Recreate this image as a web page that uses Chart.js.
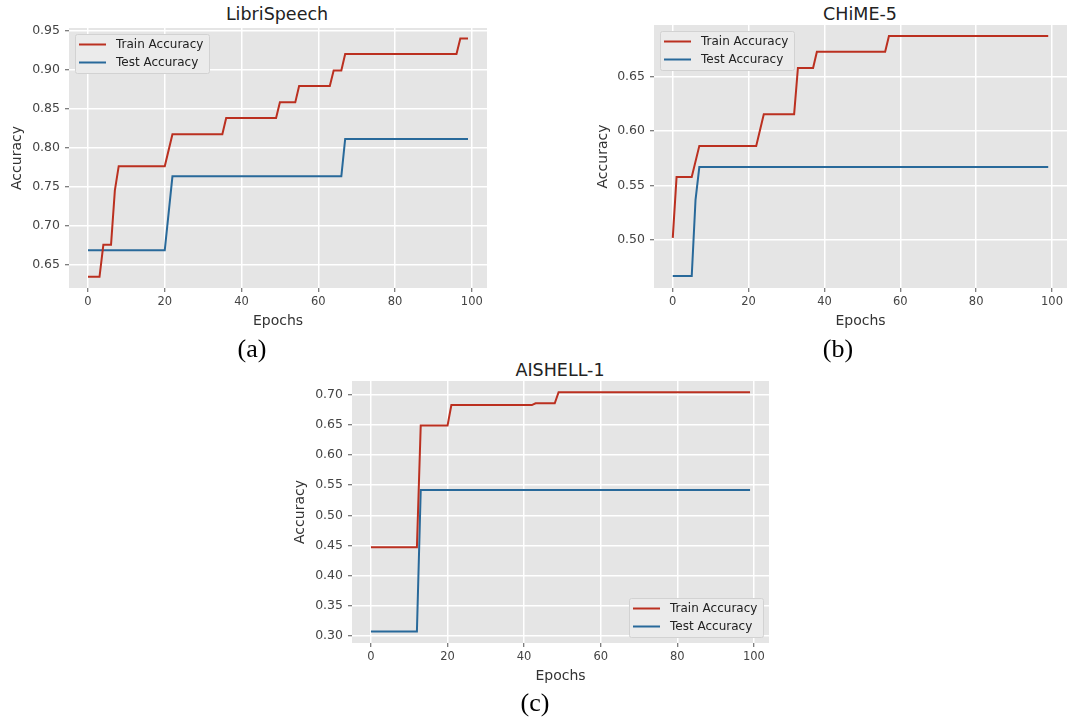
<!DOCTYPE html>
<html>
<head>
<meta charset="utf-8">
<script src="https://cdn.jsdelivr.net/npm/chart.js@4.4.0/dist/chart.umd.min.js"></script>
<style>
    body { margin: 0; background: #fff; width: 1072px; height: 720px; position: relative; overflow: hidden; }
    .box { position: absolute; }
    .title { position: absolute; font: 17.5px "DejaVu Sans"; color: #222; transform: translate(-50%, -50%); white-space: nowrap; }
    .panel { position: absolute; font: 26px "Liberation Serif"; color: #000; transform: translate(-50%, -50%); }
</style>
</head>
<body>
<div class="title" style="left:277px; top:14px;">LibriSpeech</div>
<div class="title" style="left:860px; top:14px;">CHiME-5</div>
<div class="title" style="left:560px; top:370px;">AISHELL-1</div>

<div class="box" style="left:0; top:0;"><canvas id="chartA" width="495" height="335"></canvas></div>
<div class="box" style="left:580px; top:0;"><canvas id="chartB" width="492" height="335"></canvas></div>
<div class="box" style="left:280px; top:355px;"><canvas id="chartC" width="500" height="335"></canvas></div>

<div class="panel" style="left:252px; top:349px;">(a)</div>
<div class="panel" style="left:838px; top:349px;">(b)</div>
<div class="panel" style="left:535px; top:703px;">(c)</div>

<script>
// tick labels
const epochTicks = [0, 20, 40, 60, 80, 100];
const libriTicks = [0.65, 0.70, 0.75, 0.80, 0.85, 0.90, 0.95];
const chimeTicks = [0.50, 0.55, 0.60, 0.65];
const aishellTicks = [0.30, 0.35, 0.40, 0.45, 0.50, 0.55, 0.60, 0.65, 0.70];

// LibriSpeech (epochs where the curve changes)
const libriTrainEpochs = [0, 3, 4, 6, 7, 8, 20, 22, 35, 36, 49, 50, 54, 55, 63, 64, 66, 67, 96, 97, 99];
const libriTrainAcc    = [0.634, 0.634, 0.675, 0.675, 0.745, 0.776, 0.776, 0.817, 0.817, 0.838, 0.838, 0.858, 0.858, 0.879, 0.879, 0.899, 0.899, 0.920, 0.920, 0.940, 0.940];
const libriTestEpochs  = [0, 20, 22, 66, 67, 99];
const libriTestAcc     = [0.668, 0.668, 0.763, 0.763, 0.811, 0.811];

// CHiME-5
const chimeTrainEpochs = [0, 1, 5, 7, 22, 24, 32, 33, 37, 38, 56, 57, 99];
const chimeTrainAcc    = [0.502, 0.558, 0.558, 0.5865, 0.5865, 0.6156, 0.6156, 0.658, 0.658, 0.673, 0.673, 0.6874, 0.6874];
const chimeTestEpochs  = [0, 5, 6, 7, 99];
const chimeTestAcc     = [0.467, 0.467, 0.537, 0.567, 0.567];

// AISHELL-1
const aishellTrainEpochs = [0, 12, 13, 20, 21, 42, 43, 48, 49, 99];
const aishellTrainAcc    = [0.447, 0.447, 0.649, 0.649, 0.683, 0.683, 0.686, 0.686, 0.7045, 0.7045];
const aishellTestEpochs  = [0, 12, 13, 99];
const aishellTestAcc     = [0.307, 0.307, 0.542, 0.542];

const TRAIN_COLOR = '#bb3020';
const TEST_COLOR = '#28699a';
const FONT = 'DejaVu Sans';

const toPoints = (epochs, acc) => epochs.map((e, i) => ({ x: e, y: acc[i] }));

// gray plot background (ggplot style)
const plotBg = {
    id: 'plotBg',
    beforeDraw(chart) {
        const { ctx, chartArea: a } = chart;
        ctx.save();
        ctx.fillStyle = '#e5e5e5';
        ctx.fillRect(a.left, a.top, a.right - a.left, a.bottom - a.top);
        ctx.restore();
    }
};

// matplotlib-like legend box
const legendBox = {
    id: 'legendBox',
    afterDraw(chart, args, opts) {
        const { ctx, chartArea: a } = chart;
        const items = chart.data.datasets;
        ctx.save();
        ctx.font = `12px "${FONT}"`;
        const textW = Math.max(...items.map((d) => ctx.measureText(d.label).width));
        const w = Math.round(textW + 47);
        const h = 39;
        const x = opts.corner === 'lowerRight' ? a.right - 6 - w : a.left + 6;
        const y = opts.corner === 'lowerRight' ? a.bottom - 6 - h : a.top + 6;

        ctx.fillStyle = '#ebebeb';
        ctx.strokeStyle = '#d2d2d2';
        ctx.lineWidth = 1;
        ctx.beginPath();
        ctx.roundRect(Math.round(x) + 0.5, Math.round(y) + 0.5, w, h, 2);
        ctx.fill();
        ctx.stroke();

        items.forEach((d, i) => {
            const ly = y + 10.5 + i * 18;
            ctx.strokeStyle = d.borderColor;
            ctx.lineWidth = 2;
            ctx.beginPath();
            ctx.moveTo(x + 4, ly);
            ctx.lineTo(x + 31, ly);
            ctx.stroke();
            ctx.fillStyle = '#222';
            ctx.textBaseline = 'middle';
            ctx.textAlign = 'left';
            ctx.fillText(d.label, x + 41, ly);
        });
        ctx.restore();
    }
};

const makeChart = (id, c) => {
    new Chart(document.getElementById(id), {
        type: 'line',
        data: {
            datasets: [
                { label: 'Train Accuracy', data: toPoints(c.trainEpochs, c.trainAcc), borderColor: TRAIN_COLOR },
                { label: 'Test Accuracy', data: toPoints(c.testEpochs, c.testAcc), borderColor: TEST_COLOR },
            ].map((d) => ({ ...d, borderWidth: 2, pointRadius: 0, tension: 0, fill: false }))
        },
        options: {
            responsive: false,
            animation: false,
            devicePixelRatio: 1,
            layout: { padding: { top: c.padTop, right: c.padRight, left: 0, bottom: 0 } },
            scales: {
                x: {
                    type: 'linear',
                    min: -4.95,
                    max: 103.95,
                    afterBuildTicks: (scale) => { scale.ticks = epochTicks.map((v) => ({ value: v })); },
                    afterFit: (scale) => { scale.height = 47; },
                    grid: { color: '#fff', lineWidth: 1.5, tickColor: '#555', tickWidth: 1, tickLength: 4 },
                    border: { display: false },
                    ticks: { color: '#444', padding: 3, maxRotation: 0, font: { family: FONT, size: 11.5 } },
                    title: { display: true, text: 'Epochs', color: '#333', padding: { top: 0, bottom: 5 }, font: { family: FONT, size: 14 } },
                },
                y: {
                    min: c.yMin,
                    max: c.yMax,
                    afterBuildTicks: (scale) => { scale.ticks = c.yTicks.map((v) => ({ value: v })); },
                    afterFit: (scale) => { scale.width = c.yWidth; },
                    grid: { color: '#fff', lineWidth: 1.5, tickColor: '#555', tickWidth: 1, tickLength: 4 },
                    border: { display: false },
                    ticks: { color: '#444', padding: 5, font: { family: FONT, size: 12.5 }, callback: (v) => v.toFixed(2) },
                    title: { display: true, text: 'Accuracy', color: '#333', padding: { top: c.yTitlePad, bottom: 0 }, font: { family: FONT, size: 14 } },
                }
            },
            plugins: {
                legend: { display: false },
                tooltip: { enabled: false },
                legendBox: { corner: c.corner },
            }
        },
        plugins: [plotBg, legendBox]
    });
};

makeChart('chartA', {
    trainEpochs: libriTrainEpochs, trainAcc: libriTrainAcc,
    testEpochs: libriTestEpochs, testAcc: libriTestAcc,
    yMin: 0.6196, yMax: 0.9535, yTicks: libriTicks,
    yWidth: 69, padTop: 28, padRight: 8, yTitlePad: 8.6, corner: 'upperLeft',
});

makeChart('chartB', {
    trainEpochs: chimeTrainEpochs, trainAcc: chimeTrainAcc,
    testEpochs: chimeTestEpochs, testAcc: chimeTestAcc,
    yMin: 0.456, yMax: 0.6975, yTicks: chimeTicks,
    yWidth: 74, padTop: 25, padRight: 5, yTitlePad: 14.6, corner: 'upperLeft',
});

makeChart('chartC', {
    trainEpochs: aishellTrainEpochs, trainAcc: aishellTrainAcc,
    testEpochs: aishellTestEpochs, testAcc: aishellTestAcc,
    yMin: 0.2879, yMax: 0.723, yTicks: aishellTicks,
    yWidth: 72, padTop: 26, padRight: 11, yTitlePad: 11.6, corner: 'lowerRight',
});
</script>
</body>
</html>
